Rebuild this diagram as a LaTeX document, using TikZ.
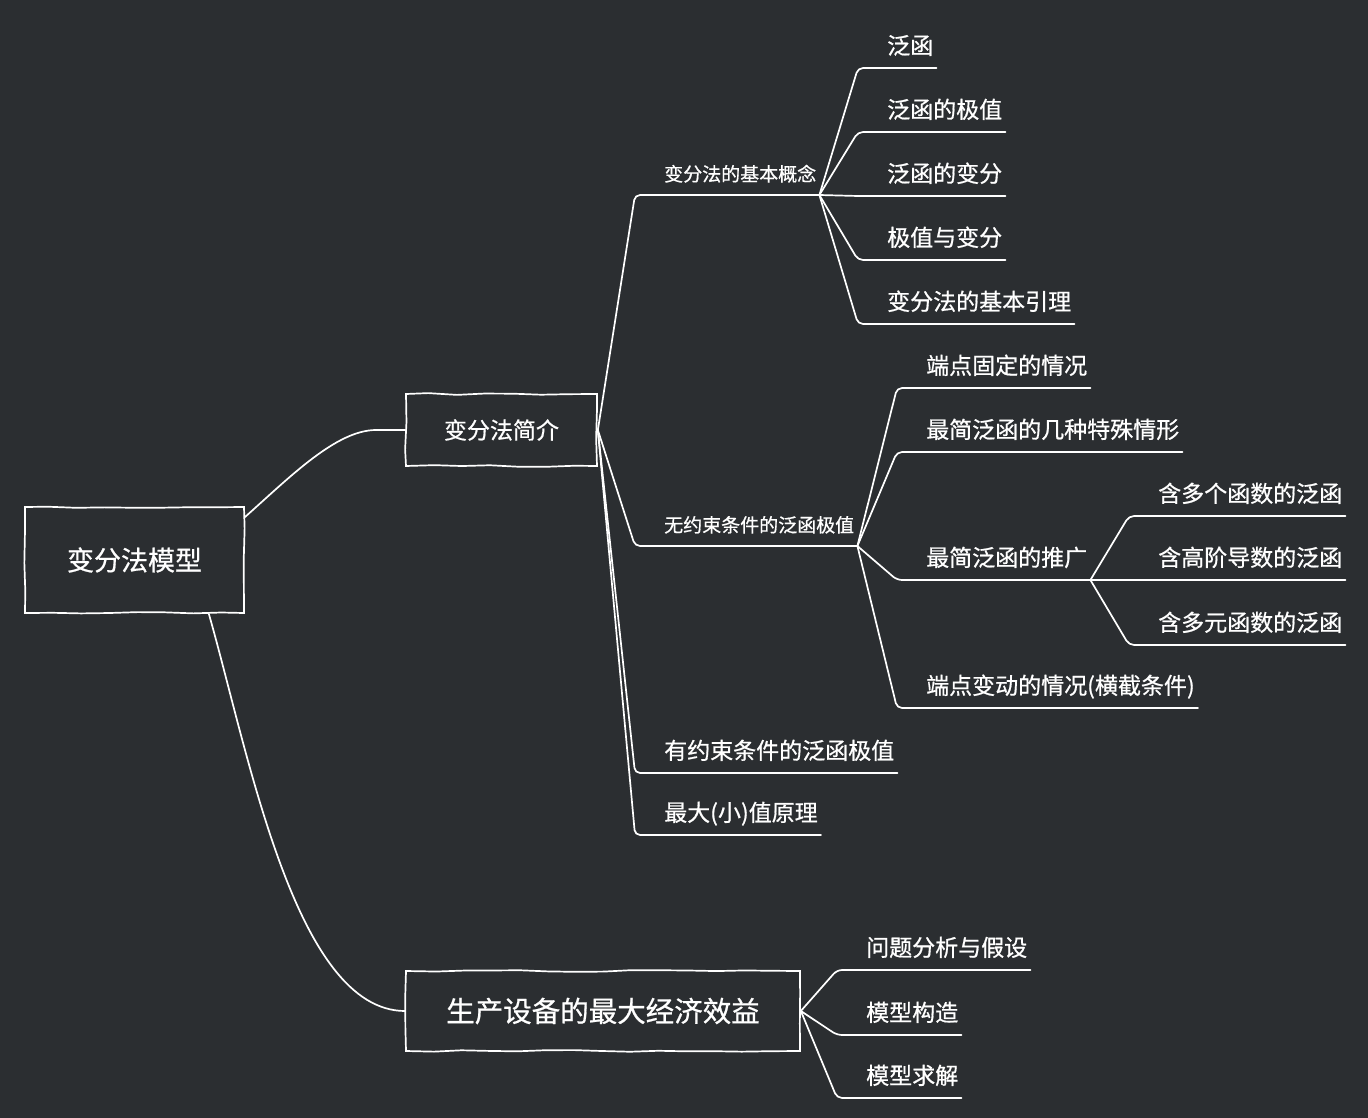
\documentclass[tikz,border=0pt]{standalone}
\usepackage{fontspec}
\newfontfamily\cjk[FakeBold=0.7]{Noto Sans CJK SC}
\usetikzlibrary{positioning,calc,decorations.pathmorphing}
\definecolor{board}{HTML}{2B2E31}

\begin{document}
\begin{tikzpicture}[x=1pt,y=-1pt,
	edge/.style={draw=white, line width=1.7pt, rounded corners=5pt, line cap=round},
	box/.style={draw=white, line width=1.7pt, text=white, inner sep=0pt,
		decorate, decoration={random steps, segment length=28pt, amplitude=0.9pt}},
	topic/.style={text=white, anchor=south west, inner xsep=3pt, inner ysep=12.5pt,
		text height=0.88em, text depth=0.12em, execute at begin node=\hspace*{26pt}},
	big/.style={font=\cjk\fontsize{23}{23}\selectfont},
	small/.style={font=\cjk\fontsize{19}{19}\selectfont}]
		\pgfmathsetseed{7}
		\fill[board] (0,0) rectangle (1368,1118);
		% main boxes
		\node[box, minimum width=219pt, minimum height=106pt, font=\cjk\fontsize{27}{27}\selectfont] (model) at (134.5,560) {变分法模型};
		\node[box, minimum width=191pt, minimum height=72pt, font=\cjk\fontsize{23}{23}\selectfont] (intro) at (501.5,430) {变分法简介};
		\node[box, minimum width=394pt, minimum height=80pt, font=\cjk\fontsize{28.5}{28.5}\selectfont] (econ) at (603,1011) {生产设备的最大经济效益};
		% first level
		\node[topic, small] (concept) at (635,195) {变分法的基本概念};
		\node[topic, small] (free) at (635,546) {无约束条件的泛函极值};
		\node[topic, big] (bound) at (635,773) {有约束条件的泛函极值};
		\node[topic, big] (maxmin) at (635,835) {最大(小)值原理};
		\node[topic, big] (analysis) at (837,970) {问题分析与假设};
		\node[topic, big] (build) at (837,1035) {模型构造};
		\node[topic, big] (solve) at (837,1098) {模型求解};
		% basic concepts
		\node[topic, big] (functional) at (858,68) {泛函};
		\node[topic, big] (extremum) at (858,132) {泛函的极值};
		\node[topic, big] (variation) at (858,196) {泛函的变分};
		\node[topic, big] (extvar) at (858,260) {极值与变分};
		\node[topic, big] (lemma) at (858,324) {变分法的基本引理};
		% free extrema
		\node[topic, big] (fixed) at (897,388) {端点固定的情况};
		\node[topic, big] (special) at (897,452) {最简泛函的几种特殊情形};
		\node[topic, big] (general) at (897,580) {最简泛函的推广};
		\node[topic, big] (moving) at (897,708) {端点变动的情况(横截条件)};
		\node[topic, big] (multi) at (1129,516) {含多个函数的泛函};
		\node[topic, big] (higher) at (1129,580) {含高阶导数的泛函};
		\node[topic, big] (multivar) at (1129,645) {含多元函数的泛函};
		% connectors
		\draw[edge] ([yshift=-11pt]model.north east) .. controls +(45,-40) and +(-45,0) .. ([xshift=-24pt]intro.west) -- (intro.west);
		\draw[edge] ([xshift=-36pt]model.south east) .. controls +(40,140) and +(-110,0) .. (econ.west);
		\draw[edge] (intro.east) -- (concept.south west) -- (concept.south east);
		\draw[edge] (intro.east) -- (free.south west) -- (free.south east);
		\draw[edge] (intro.east) -- (bound.south west) -- (bound.south east);
		\draw[edge] (intro.east) -- (maxmin.south west) -- (maxmin.south east);
		\draw[edge] (concept.south east) -- (functional.south west) -- (functional.south east);
		\draw[edge] (concept.south east) -- (extremum.south west) -- (extremum.south east);
		\draw[edge] (concept.south east) -- (variation.south west) -- (variation.south east);
		\draw[edge] (concept.south east) -- (extvar.south west) -- (extvar.south east);
		\draw[edge] (concept.south east) -- (lemma.south west) -- (lemma.south east);
		\draw[edge] (free.south east) -- (fixed.south west) -- (fixed.south east);
		\draw[edge] (free.south east) -- (special.south west) -- (special.south east);
		\draw[edge] (free.south east) -- (general.south west) -- (general.south east);
		\draw[edge] (free.south east) -- (moving.south west) -- (moving.south east);
		\draw[edge] (general.south east) -- (multi.south west) -- (multi.south east);
		\draw[edge] (general.south east) -- (higher.south west) -- (higher.south east);
		\draw[edge] (general.south east) -- (multivar.south west) -- (multivar.south east);
		\draw[edge] (econ.east) -- (analysis.south west) -- (analysis.south east);
		\draw[edge] (econ.east) -- (build.south west) -- (build.south east);
		\draw[edge] (econ.east) -- (solve.south west) -- (solve.south east);
	\end{tikzpicture}
\end{document}
